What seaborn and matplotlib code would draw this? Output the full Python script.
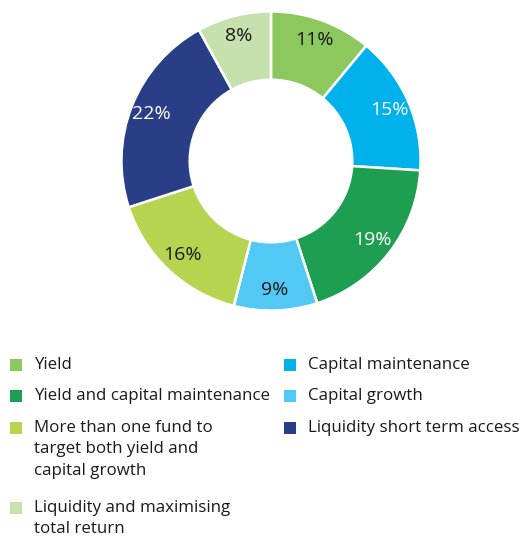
import matplotlib
matplotlib.use("Agg")
import matplotlib.pyplot as plt
from matplotlib.patches import Rectangle
import seaborn as sns

# Investment objectives, share of responses (%), clockwise from 12 o'clock
categories = [
    "Yield",
    "Capital maintenance",
    "Yield and capital maintenance",
    "Capital growth",
    "More than one fund to\ntarget both yield and\ncapital growth",
    "Liquidity short term access",
    "Liquidity and maximising\ntotal return",
]
shares = [11, 15, 19, 9, 16, 22, 8]
colors = ["#8dc85e", "#00b1eb", "#1e9e50", "#52c9f4", "#b6d44f", "#2a3e87", "#c6e1ae"]
label_colors = ["#1a1a1a", "white", "white", "#1a1a1a", "#1a1a1a", "white", "#1a1a1a"]

# Legend layout: two columns, left column items then right column items
left_items = [0, 2, 4, 6]
right_items = [1, 3, 5]

sns.set_theme(style="white")
plt.rcParams["font.family"] = ["Open Sans", "DejaVu Sans"]

W, H = 529, 537
fig = plt.figure(figsize=(W / 100, H / 100), dpi=100)

# Donut
cx, cy, R = 271, 161, 150
ax = fig.add_axes([(cx - R) / W, 1 - (cy + R) / H, 2 * R / W, 2 * R / H])
wedges, _, autotexts = ax.pie(
    shares,
    colors=colors,
    startangle=90,
    counterclock=False,
    radius=0.997,
    autopct="%d%%",
    pctdistance=0.86,
    wedgeprops=dict(width=0.455, edgecolor="white", linewidth=1.8),
    textprops=dict(fontsize=14),
)
for t, c in zip(autotexts, label_colors):
    t.set_color(c)
ax.set_xlim(-1, 1)
ax.set_ylim(-1, 1)
ax.set_aspect("equal")
ax.axis("off")

# Legend drawn as squares plus text
def legend_column(items, x_sq, x_txt, y_rows):
    for i, y in zip(items, y_rows):
        fig.patches.append(Rectangle((x_sq / W, 1 - (y + 6) / H), 12 / W, 12 / H,
                                     transform=fig.transFigure, facecolor=colors[i],
                                     edgecolor="none"))
        fig.text(x_txt / W, 1 - (y - 8) / H, categories[i], ha="left", va="top",
                 fontsize=12.2, color="#1a1a1a", linespacing=1.45)

legend_column(left_items, 10, 34, [365, 396, 428, 508])
legend_column(right_items, 284, 308, [365, 396, 428])

fig.savefig("out.png", dpi=100, facecolor="white")
